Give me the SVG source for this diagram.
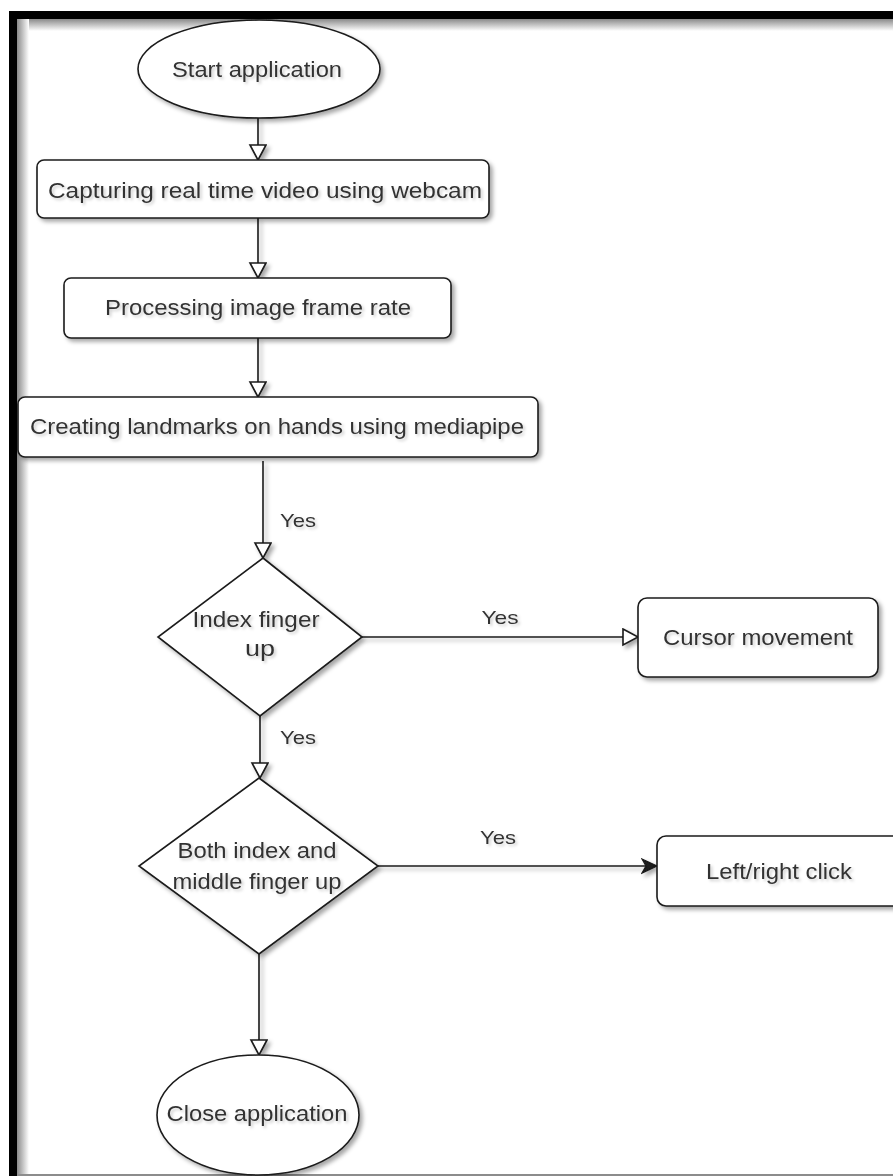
<svg xmlns="http://www.w3.org/2000/svg" width="893" height="1176" viewBox="0 0 893 1176">
<style>
.shape{fill:#ffffff;stroke:#1a1a1a;stroke-width:1.6}
.conn{fill:none;stroke:#1a1a1a;stroke-width:1.6}
.t{font-family:"Liberation Sans",Arial,sans-serif;font-size:22px;fill:#333333;text-anchor:middle}
.y{font-family:"Liberation Sans",Arial,sans-serif;font-size:19px;fill:#333333;text-anchor:middle}
</style>
<defs>
<filter id="sh" x="-10%" y="-10%" width="130%" height="140%">
<feDropShadow dx="3" dy="3" stdDeviation="2" flood-color="#000000" flood-opacity="0.35"/>
</filter>
<filter id="tsh" x="-10%" y="-30%" width="130%" height="170%">
<feDropShadow dx="2" dy="2" stdDeviation="1.5" flood-color="#000000" flood-opacity="0.2"/>
</filter>
<marker id="open" markerWidth="20" markerHeight="20" refX="16" refY="9" orient="auto" markerUnits="userSpaceOnUse">
<path d="M1,1 L16,9 L1,17 Z" fill="#ffffff" stroke="#1a1a1a" stroke-width="1.6"/>
</marker>
<marker id="block" markerWidth="20" markerHeight="20" refX="16" refY="8" orient="auto" markerUnits="userSpaceOnUse">
<path d="M1,1 L16,8 L1,15 L5,8 Z" fill="#1a1a1a" stroke="#1a1a1a" stroke-width="1.2"/>
</marker>
<linearGradient id="gl" x1="0" y1="0" x2="1" y2="0">
<stop offset="0" stop-color="#8a8a8a"/>
<stop offset="1" stop-color="#ffffff"/>
</linearGradient>
<linearGradient id="gt" x1="0" y1="0" x2="0" y2="1">
<stop offset="0" stop-color="#8a8a8a"/>
<stop offset="1" stop-color="#ffffff"/>
</linearGradient>
</defs>
<rect x="0" y="0" width="893" height="1176" fill="#ffffff"/>
<g id="frame">
<rect x="17" y="19" width="876" height="12" fill="url(#gt)"/>
<rect x="17" y="19" width="12" height="1157" fill="url(#gl)"/>
<rect x="9" y="11" width="884" height="8" fill="#000000"/>
<rect x="9" y="11" width="8" height="1165" fill="#000000"/>
<rect x="17" y="1174" width="876" height="2" fill="#8c8c8c"/>
</g>
<g id="connectors" filter="url(#sh)">
<path class="conn" d="M258,118 L258,160" marker-end="url(#open)"/>
<path class="conn" d="M258,218 L258,278" marker-end="url(#open)"/>
<path class="conn" d="M258,338 L258,397" marker-end="url(#open)"/>
<path class="conn" d="M263,461 L263,558" marker-end="url(#open)"/>
<path class="conn" d="M362,637 L638,637" marker-end="url(#open)"/>
<path class="conn" d="M260,716 L260,778" marker-end="url(#open)"/>
<path class="conn" d="M378,866 L657,866" marker-end="url(#block)"/>
<path class="conn" d="M259,954 L259,1055" marker-end="url(#open)"/>
</g>
<g id="labels" filter="url(#tsh)">
<text class="y" x="298" y="527" textLength="36" lengthAdjust="spacingAndGlyphs">Yes</text>
<text class="y" x="500" y="624" textLength="37" lengthAdjust="spacingAndGlyphs">Yes</text>
<text class="y" x="298" y="744" textLength="36" lengthAdjust="spacingAndGlyphs">Yes</text>
<text class="y" x="498" y="844" textLength="36" lengthAdjust="spacingAndGlyphs">Yes</text>
</g>
<g id="start">
<ellipse class="shape" cx="259" cy="69" rx="121" ry="49" filter="url(#sh)"/>
<text class="t" x="257" y="77" textLength="170" lengthAdjust="spacingAndGlyphs" filter="url(#tsh)">Start application</text>
</g>
<g id="capture">
<rect class="shape" x="37" y="160" width="452" height="58" rx="7" filter="url(#sh)"/>
<text class="t" x="265" y="198" textLength="434" lengthAdjust="spacingAndGlyphs" filter="url(#tsh)">Capturing real time video using webcam</text>
</g>
<g id="process">
<rect class="shape" x="64" y="278" width="387" height="60" rx="7" filter="url(#sh)"/>
<text class="t" x="258" y="315" textLength="306" lengthAdjust="spacingAndGlyphs" filter="url(#tsh)">Processing image frame rate</text>
</g>
<g id="landmarks">
<rect class="shape" x="18" y="397" width="520" height="60" rx="7" filter="url(#sh)"/>
<text class="t" x="277" y="434" textLength="494" lengthAdjust="spacingAndGlyphs" filter="url(#tsh)">Creating landmarks on hands using mediapipe</text>
</g>
<g id="index-up">
<polygon class="shape" points="263,558 362,637 260,716 158,637" filter="url(#sh)"/>
<text class="t" x="256" y="627" textLength="127" lengthAdjust="spacingAndGlyphs" filter="url(#tsh)">Index finger</text>
<text class="t" x="260" y="656" textLength="30" lengthAdjust="spacingAndGlyphs" filter="url(#tsh)">up</text>
</g>
<g id="cursor">
<rect class="shape" x="638" y="598" width="240" height="79" rx="9" filter="url(#sh)"/>
<text class="t" x="758" y="645" textLength="190" lengthAdjust="spacingAndGlyphs" filter="url(#tsh)">Cursor movement</text>
</g>
<g id="both-up">
<polygon class="shape" points="259,778 378,866 259,954 139,866" filter="url(#sh)"/>
<text class="t" x="257" y="858" textLength="159" lengthAdjust="spacingAndGlyphs" filter="url(#tsh)">Both index and</text>
<text class="t" x="257" y="889" textLength="169" lengthAdjust="spacingAndGlyphs" filter="url(#tsh)">middle finger up</text>
</g>
<g id="click">
<rect class="shape" x="657" y="836" width="250" height="70" rx="9" filter="url(#sh)"/>
<text class="t" x="779" y="879" textLength="146" lengthAdjust="spacingAndGlyphs" filter="url(#tsh)">Left/right click</text>
</g>
<g id="close">
<ellipse class="shape" cx="258" cy="1115" rx="101" ry="60" filter="url(#sh)"/>
<text class="t" x="257" y="1121" textLength="181" lengthAdjust="spacingAndGlyphs" filter="url(#tsh)">Close application</text>
</g>
</svg>
